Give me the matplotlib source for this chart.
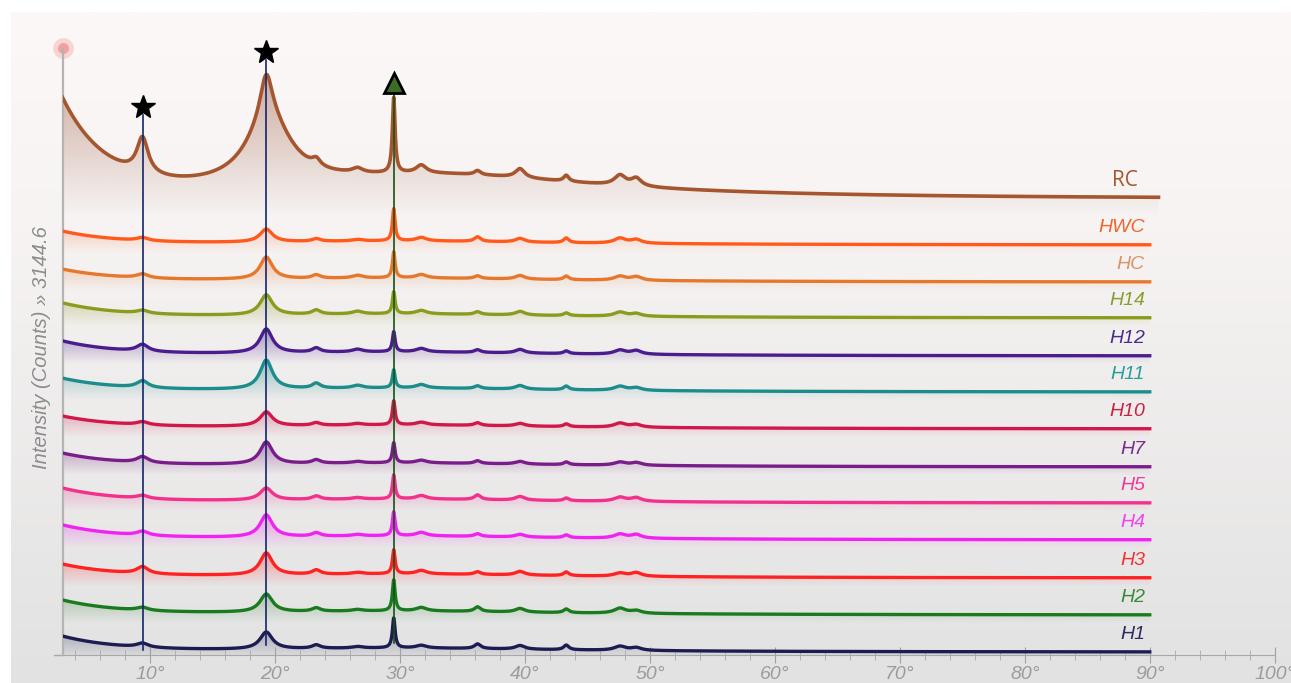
import numpy as np
import matplotlib
matplotlib.use("Agg")
import matplotlib.pyplot as plt
from matplotlib.colors import to_rgb

# sample names, bottom to top
samples = ["H1", "H2", "H3", "H4", "H5", "H7", "H10", "H11", "H12", "H14", "HC", "HWC", "RC"]
line_colors = ["#1c1c52", "#1a7a1e", "#ff2222", "#f024f0", "#f2318c", "#7a1c8a", "#d0184a",
               "#1c8c8c", "#4a1c8c", "#8c9a1e", "#e6782e", "#ff5a1c", "#a5562f"]
label_colors = ["#2c2c5e", "#3a8a3a", "#f03434", "#f044f0", "#f0389a", "#7a2c8c", "#c82244",
                "#2a9c9c", "#4c2c8c", "#8c9c34", "#d89468", "#f0642e", "#a5562f"]
# stacking offsets (counts at the 90 deg end of each pattern)
offsets = [15, 207, 399, 596, 787, 974, 1171, 1362, 1549, 1746, 1932, 2124, 2362]

# reflections (2theta, deg) and half widths
peak_pos = [9.4, 19.3, 23.3, 26.6, 29.5, 31.7, 36.2, 39.6, 43.3, 47.6, 48.9]
peak_hw = [0.55, 0.6, 0.4, 0.5, 0.13, 0.5, 0.3, 0.45, 0.25, 0.55, 0.5]

# peak heights (counts) per sample
heights = {
    "H1":  [21, 88, 18, 8, 155, 14, 24, 19, 24, 21, 14],
    "H2":  [16, 93, 18, 8, 160, 18, 24, 19, 19, 26, 14],
    "H3":  [36, 114, 22, 8, 124, 18, 14, 19, 19, 16, 19],
    "H4":  [21, 114, 18, 8, 124, 18, 14, 14, 14, 21, 19],
    "H5":  [16, 62, 18, 8, 124, 18, 24, 19, 14, 21, 19],
    "H7":  [31, 114, 18, 8, 104, 14, 14, 14, 14, 16, 14],
    "H10": [16, 73, 14, 8, 124, 14, 14, 14, 14, 21, 14],
    "H11": [36, 150, 26, 14, 93, 18, 14, 19, 19, 21, 14],
    "H12": [36, 124, 22, 14, 104, 18, 14, 19, 14, 21, 19],
    "H14": [16, 104, 22, 14, 114, 18, 14, 19, 14, 21, 14],
    "HC":  [21, 114, 18, 14, 135, 18, 14, 19, 19, 21, 19],
    "HWC": [16, 67, 14, 8, 166, 18, 24, 19, 24, 26, 19],
    "RC":  [186, 233, 36, 24, 389, 41, 21, 47, 31, 52, 41],
}
# low-angle scatter (amplitude at 3 deg, decay in deg)
low_amp = [78, 73, 67, 73, 73, 67, 62, 67, 73, 73, 62, 67, 492]
low_decay = [4.5, 4.5, 4.5, 4.5, 4.5, 4.5, 4.5, 4.5, 4.5, 4.5, 4.5, 4.5, 3.6]
# amorphous halo (height, centre, half width)
halo = {"H": (21, 30, 15), "RC": (124, 33, 16)}
# broad base under the 19.3 deg reflection of RC
rc_broad = (337, 19.5, 2.2)
x_end = {"RC": 90.7}

# reference lines: star, star, triangle
mark_pos = [9.46, 19.28, 29.54]
mark_top = [2797, 3082, 2927]
mark_bottom = [26, 52, 62]
mark_shape = ["*", "*", "^"]
mark_line_color = ["#15256a", "#15256a", "#145214"]

y_max = 3144.6


def lorentz(x, h, c, w):
    return h / (1 + ((x - c) / w) ** 2)


def pattern(name, i, x):
    y = low_amp[i] * np.exp(-(x - 3) / low_decay[i])
    hh, hc, hw = halo["RC" if name == "RC" else "H"]
    y += lorentz(x, hh, hc, hw)
    for h, c, w in zip(heights[name], peak_pos, peak_hw):
        y += lorentz(x, h, c, w)
    if name == "RC":
        y += lorentz(x, *rc_broad)
    return y + offsets[i]


def gradient_fill(ax, x, y, base, color, alpha_top, zorder):
    poly, = ax.fill(np.r_[x, x[::-1]], np.r_[y, np.full_like(y, base)],
                    facecolor="none", edgecolor="none")
    img = np.zeros((200, 1, 4))
    img[:, :, :3] = to_rgb(color)
    img[:, 0, 3] = np.linspace(0, alpha_top, 200)
    im = ax.imshow(img, aspect="auto", origin="lower", zorder=zorder,
                   extent=[x.min(), x.max(), base, y.max()], interpolation="bilinear")
    im.set_clip_path(poly)


W, H = 1291, 683
fig = plt.figure(figsize=(W / 100, H / 100), dpi=100)
fig.patch.set_facecolor("white")

# panel background
bg = fig.add_axes([11 / W, 0, 1 - 11 / W, 671 / H])
stops = np.array([[252, 248, 247], [246, 243, 242], [226, 226, 226]]) / 255
t = np.linspace(0, 1, 300)
grad = np.stack([np.interp(t, [0, 0.33, 1], stops[:, k]) for k in range(3)], axis=-1)
bg.imshow(grad[::-1, None, :], aspect="auto", extent=[0, 1, 0, 1], origin="lower")
bg.set_axis_off()

ax = fig.add_axes([62.5 / W, 28 / H, (1275 - 62.5) / W, 607 / H])
ax.patch.set_alpha(0)

for i, name in enumerate(samples):
    x = np.arange(3, x_end.get(name, 90.0), 0.02)
    y = pattern(name, i, x)
    if name == "RC":
        gradient_fill(ax, x, y, offsets[i] - 80, "#a8705a", 0.55, 1)
        ax.plot(x, y, color=line_colors[i], lw=2.6, zorder=3)
        ax.text(89.0, offsets[i] + 67, name, color=label_colors[i], fontsize=15,
                family="Open Sans", ha="right", va="baseline")
    else:
        gradient_fill(ax, x, y, offsets[i] - 40, line_colors[i], 0.45, 1)
        ax.plot(x, y, color=line_colors[i], lw=2.4, zorder=3)
        ax.text(89.6, offsets[i] + 67, name, color=label_colors[i], fontsize=14,
                family="Liberation Sans", style="italic", ha="right", va="baseline")

for p, top, bot, m, c in zip(mark_pos, mark_top, mark_bottom, mark_shape, mark_line_color):
    ax.plot([p, p], [bot, top], color=c, lw=1.2, zorder=4)
    if m == "*":
        ax.plot(p, top + 41, marker="*", ms=18, color="black", zorder=5, clip_on=False)
    else:
        ax.plot(p, top + 36, marker="^", ms=14, mfc="#3d6b2a", mec="black", mew=2,
                zorder=5, clip_on=False)

# axis end marker
ax.plot(3, y_max, "o", ms=15, color="#f05050", alpha=0.2, mec="none", clip_on=False, zorder=2)
ax.plot(3, y_max, "o", ms=8, color="#f06060", alpha=0.45, mec="none", clip_on=False, zorder=2)
ax.plot([2.35, 3], [0, 0], color="#a8a8a8", lw=1, clip_on=False)

ax.set_xlim(3, 100)
ax.set_ylim(0, y_max)
ax.set_xticks(range(10, 101, 10))
ax.set_xticks(range(4, 101, 2), minor=True)
ax.set_xticklabels([f"{v}°" for v in range(10, 101, 10)], fontstyle="italic",
                   color="#9c9c9c", fontsize=14, family="Liberation Sans")
ax.tick_params(axis="x", which="major", direction="inout", length=12, color="#a0a0a0", pad=2)
ax.tick_params(axis="x", which="minor", direction="inout", length=7, color="#a8a8a8")
ax.set_yticks([])
for s in ["top", "right"]:
    ax.spines[s].set_visible(False)
ax.spines["left"].set_color("#b4b4b4")
ax.spines["left"].set_linewidth(1.6)
ax.spines["bottom"].set_color("#a8a8a8")

fig.text(42 / W, 1 - 348 / H, "Intensity (Counts) » 3144.6", rotation=90, ha="center",
         va="center", color="#8c8c8c", fontsize=14.5, family="Liberation Sans",
         style="italic")

fig.savefig("out.png", dpi=100)
